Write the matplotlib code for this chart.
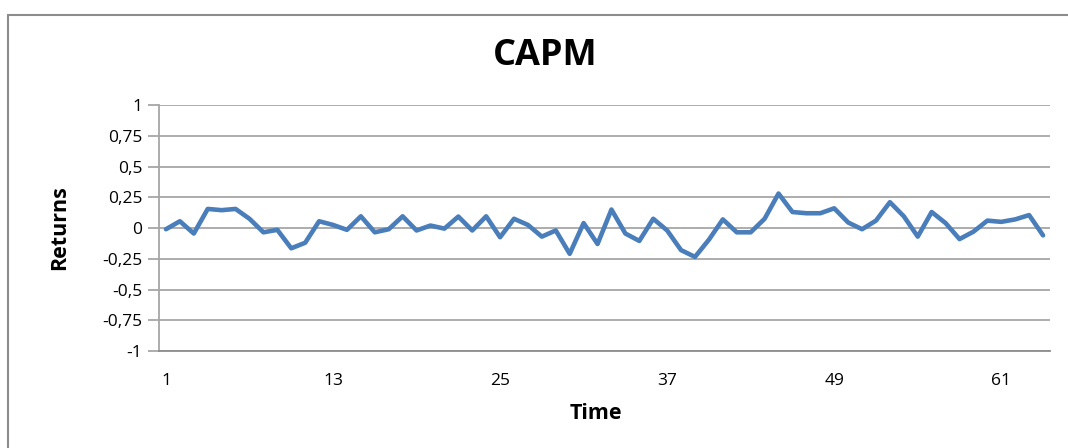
import matplotlib
matplotlib.use("Agg")
import matplotlib.pyplot as plt
from matplotlib.patches import Rectangle

plt.rcParams['font.family'] = ['Open Sans', 'DejaVu Sans']

title = "CAPM"
x_label = "Time"
y_label = "Returns"

time = list(range(1, 65))
returns = [
    -0.01, 0.055, -0.045, 0.155, 0.145, 0.155, 0.075, -0.035, -0.015, -0.165,
    -0.12, 0.055, 0.025, -0.015, 0.095, -0.035, -0.01, 0.095, -0.02, 0.02,
    -0.005, 0.093, -0.02, 0.095, -0.075, 0.075, 0.025, -0.07, -0.02, -0.21,
    0.04, -0.13, 0.15, -0.045, -0.105, 0.075, -0.02, -0.18, -0.235, -0.095,
    0.07, -0.035, -0.035, 0.075, 0.28, 0.13, 0.12, 0.12, 0.16, 0.045,
    -0.01, 0.06, 0.21, 0.095, -0.07, 0.13, 0.04, -0.09, -0.03, 0.06,
    0.05, 0.07, 0.105, -0.06,
]
y_ticks = [-1, -0.75, -0.5, -0.25, 0, 0.25, 0.5, 0.75, 1]
y_tick_labels = ["-1", "-0,75", "-0,5", "-0,25", "0", "0,25", "0,5", "0,75", "1"]
x_tick_values = [1, 13, 25, 37, 49, 61]

W, H = 1068, 448
fig = plt.figure(figsize=(W / 100, H / 100), dpi=100)

# chart-area border (clipped on right/bottom as in reference)
fig.patches.append(Rectangle((8 / W, -0.1), 1.2, 1 - 15 / H + 0.1,
                             transform=fig.transFigure, fill=False,
                             edgecolor="#8c8c8c", linewidth=1.5))

left, right, top, bottom = 159, 1050, 105, 351
ax = fig.add_axes([left / W, 1 - bottom / H, (right - left) / W, (bottom - top) / H])

ax.plot(time, returns, color="#4a7ebb", linewidth=3.3, solid_joinstyle="round",
        solid_capstyle="round", clip_on=False, zorder=3)

ax.set_xlim(0.5, 64.5)
ax.set_ylim(-1, 1)
ax.set_yticks(y_ticks)
ax.set_yticklabels(y_tick_labels)
ax.set_xticks(x_tick_values)
ax.set_xticklabels([str(v) for v in x_tick_values])

ax.grid(axis="y", color="#a6a6a6", linewidth=1.3)
ax.set_axisbelow(True)
for s in ["top", "right"]:
    ax.spines[s].set_visible(False)
ax.spines["left"].set_color("#a6a6a6")
ax.spines["left"].set_linewidth(1.3)
ax.spines["bottom"].set_color("#8c8c8c")
ax.spines["bottom"].set_linewidth(1.3)

ax.tick_params(axis="y", length=8, width=1.3, color="#a6a6a6", labelsize=12.5,
               labelcolor="#000000", pad=4)
ax.tick_params(axis="x", length=0, labelsize=12.5, labelcolor="#000000", pad=16)

fig.text(545 / W, 1 - 56 / H, title, ha="center", va="center",
         fontsize=26, fontweight="bold")
fig.text(60 / W, 1 - 228 / H, y_label, ha="center", va="center", rotation=90,
         fontsize=15.5, fontweight="bold")
fig.text(596 / W, 1 - 413 / H, x_label, ha="center", va="center",
         fontsize=15.5, fontweight="bold")

fig.savefig("out.png", dpi=100)
